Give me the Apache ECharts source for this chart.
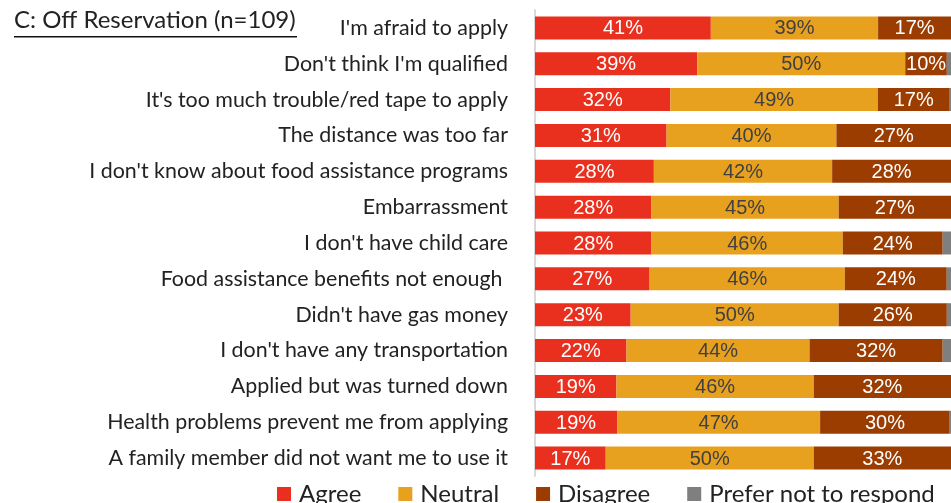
<!DOCTYPE html>
<html>
<head>
<meta charset="utf-8">
<script src="https://cdn.jsdelivr.net/npm/echarts@6/dist/echarts.min.js"></script>
<style>
html,body{margin:0;padding:0;background:#fff;}
#chart{width:951px;height:503px;}
</style>
</head>
<body>
<div id="chart"></div>
<script>
const categories = [
  "I'm afraid to apply",
  "Don't think I'm qualified",
  "It's too much trouble/red tape to apply",
  "The distance was too far",
  "I don't know about food assistance programs",
  "Embarrassment",
  "I don't have child care",
  "Food assistance benefits not enough ",
  "Didn't have gas money",
  "I don't have any transportation",
  "Applied but was turned down",
  "Health problems prevent me from applying",
  "A family member did not want me to use it"
];
const agree    = [41, 39, 32, 31, 28, 28, 28, 27, 23, 22, 19, 19, 17];
const neutral  = [39, 50, 49, 40, 42, 45, 46, 46, 50, 44, 46, 47, 50];
const disagree = [17, 10, 17, 27, 28, 27, 24, 24, 26, 32, 32, 30, 33];
const prefer   = [0, 1, 0.3, 0, 0, 0, 2, 1, 1, 2, 0, 0.3, 0];
const seriesNames = ['Agree', 'Neutral', 'Disagree', 'Prefer not to respond'];
const colors = ['#E9301F', '#E8A11F', '#9B3C00', '#7F7F7F'];
const titleText = 'C: Off Reservation (n=109)';

const raw = [agree, neutral, disagree, prefer];
const totals = categories.map((_, i) => raw.reduce((s, arr) => s + arr[i], 0));
const labelColors = ['#ffffff', '#404040', '#ffffff', '#ffffff'];

const series = raw.map((arr, k) => ({
  name: seriesNames[k],
  type: 'bar',
  stack: 'total',
  barWidth: 23,
  itemStyle: { color: colors[k] },
  label: {
    show: k < 3,
    position: 'inside',
    color: labelColors[k],
    fontFamily: 'Liberation Sans, Arial, sans-serif',
    fontSize: 20,
    offset: [0, 1],
    formatter: p => arr[p.dataIndex] + '%'
  },
  emphasis: { disabled: true },
  data: arr.map((v, i) => v / totals[i] * 100)
}));

const chart = echarts.init(document.getElementById('chart'), null, { renderer: 'canvas' });
chart.setOption({
  animation: false,
  backgroundColor: '#ffffff',
  grid: { left: 535, right: 0, top: 10, bottom: 27, containLabel: false },
  xAxis: { type: 'value', min: 0, max: 100, show: false },
  yAxis: {
    type: 'category',
    inverse: true,
    data: categories,
    axisLine: { show: true, lineStyle: { color: '#d9d9d9', width: 2 } },
    axisTick: { show: false },
    axisLabel: {
      margin: 27,
      color: '#222222',
      fontFamily: 'Lato, sans-serif',
      fontSize: 21.4
    }
  },
  legend: {
    data: seriesNames,
    left: 272,
    top: 477,
    icon: 'rect',
    itemWidth: 14,
    itemHeight: 14,
    itemGap: 37,
    textStyle: { fontFamily: 'Lato, sans-serif', fontSize: 24, color: '#222222', padding: [0, 0, 0, 3] }
  },
  graphic: [
    { type: 'text', left: 14, top: 8, style: { text: titleText, fontFamily: 'Lato, sans-serif', fontSize: 24, fill: '#222222' } },
    { type: 'rect', shape: { x: 14, y: 36, width: 283, height: 1.6 }, style: { fill: '#111111' } }
  ],
  series: series
});
</script>
</body>
</html>
